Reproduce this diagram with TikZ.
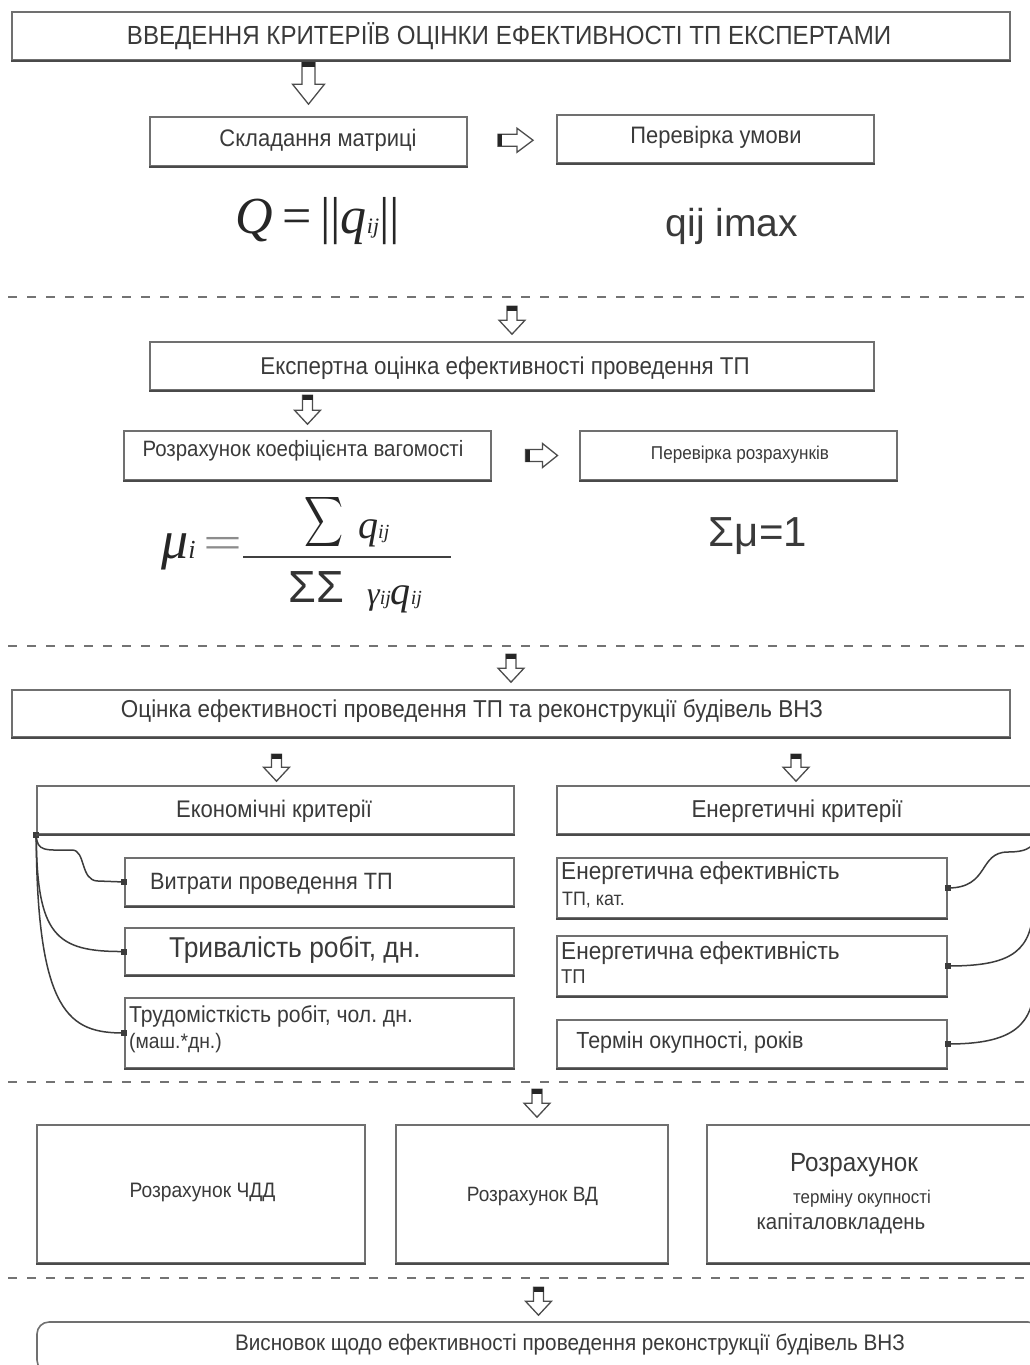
\documentclass[tikz,border=0pt]{standalone}
\usepackage{fontspec}
\setmainfont[FakeStretch=0.92]{Liberation Sans}
\newfontfamily\widesans{Liberation Sans}
\newfontfamily\tmsfont{Liberation Serif}
\usetikzlibrary{calc}
\definecolor{boxline}{HTML}{707070}
\definecolor{boxshade}{HTML}{4A4A4A}
\definecolor{ink}{HTML}{3A3A3A}
\definecolor{wire}{HTML}{3C3C3C}
\frenchspacing
\begin{document}
\begin{tikzpicture}[x=1pt,y=-1pt,
  box/.style={draw=boxline,line width=1.6pt,fill=white,inner sep=0pt},
  rbox/.style={box,rounded corners=12pt},
  shadeline/.style={draw=boxshade,line width=2.6pt},
  txt/.style={text=ink,inner sep=0pt,font=\fontsize{#1}{#1}\selectfont},
  wtxt/.style={text=ink,inner sep=0pt,font=\fontsize{#1}{#1}\selectfont\widesans},
  frm/.style={text=black!85,inner sep=0pt,font=\fontsize{#1}{#1}\selectfont\tmsfont\itshape},
  sepline/.style={draw=black!55,line width=2.4pt,dash pattern=on 9pt off 10pt},
  wireline/.style={draw=wire,line width=1.5pt},
  pin/.style={fill=wire},
  arrline/.style={draw=black!70,line width=1.3pt,fill=white},
  % hollow block arrow pointing down: length / head width / shaft width / head length
  pics/downarr/.style n args={4}{code={
    \path[arrline] (-#3/2,0) -- (-#3/2,#1-#4) -- (-#2/2,#1-#4) -- (0,#1)
      -- (#2/2,#1-#4) -- (#3/2,#1-#4) -- (#3/2,0) -- cycle;
    \fill[black!85] (-#3/2,0) rectangle (#3/2,5);
  }},
  % hollow block arrow pointing right
  pics/rightarr/.style n args={4}{code={
    \path[arrline] (0,-#3/2) -- (#1-#4,-#3/2) -- (#1-#4,-#2/2) -- (#1,0)
      -- (#1-#4,#2/2) -- (#1-#4,#3/2) -- (0,#3/2) -- cycle;
    \fill[black!85] (0,-#3/2) rectangle (4,#3/2);
  }}
]
\useasboundingbox (0,0) rectangle (1030,1365);
\fill[white] (0,0) rectangle (1030,1365);
\clip (0,0) rectangle (1030,1365);

% ---------- stage 1: criteria from experts ----------
\node[box,minimum width=998,minimum height=48] (title) at (511,36) {};
\node[txt=26.2] (tTitle) at (509,36) {ВВЕДЕННЯ КРИТЕРІЇВ ОЦІНКИ ЕФЕКТИВНОСТІ ТП ЕКСПЕРТАМИ};

\node[box,minimum width=317,minimum height=49] (mat) at (308.5,141.5) {};
\node[txt=23.9] (tMat) at (318,140) {Складання матриці};
\node[box,minimum width=317,minimum height=48] (cond) at (715.5,139) {};
\node[txt=23.8] (tCond) at (716,137) {Перевірка умови};

\node[frm=52] (fQ) at (318,221) {Q\,{\upshape =}\,{\upshape||}q{\fontsize{22}{22}\selectfont ij}{\upshape||}};
\node[wtxt=39] (fMax) at (732,226) {qij imax};

\pic at ($(mat.north)+(0,-54)$) {downarr={42}{32}{13}{20}};
\pic at ($(mat.east)!0.5!(cond.west)+(-14,0)$) {rightarr={35}{24}{12}{16}};

\draw[sepline] (8,297) -- (1030,297);

% ---------- stage 2: expert estimate ----------
\node[box,minimum width=724,minimum height=48] (exp) at (512,366) {};
\node[txt=24.3] (tExp) at (505,368) {Експертна оцінка ефективності проведення ТП};
\node[box,minimum width=367,minimum height=49] (coef) at (307.5,455.5) {};
\node[txt=22.2] (tCoef) at (303,451) {Розрахунок коефіцієнта вагомості};
\node[box,minimum width=317,minimum height=49] (chk) at (738.5,455.5) {};
\node[txt=18.6] (tChk) at (740,455) {Перевірка розрахунків};

\pic at ($(exp.north)+(0,-35)$) {downarr={28}{26}{10}{14}};
\pic at ($(coef.north)+(0,-35)$) {downarr={29}{26}{10}{14}};
\pic at ($(coef.east)!0.5!(chk.west)+(-10,0)$) {rightarr={32}{24}{12}{15}};

% weight coefficient formula
\node[frm=54,anchor=base west] (fMu) at (161,558) {μ{\fontsize{26}{26}\selectfont i}};
\node[inner sep=0pt,text=black!45,xscale=1.5,font=\fontsize{46}{46}\selectfont\tmsfont] (fEq) at (223,548) {=};
\coordinate (barL) at (243,557);
\coordinate (barR) at (451,557);
\draw[draw=black!75,line width=1.4pt] (barL) -- (barR);
\node[inner sep=0pt,text=black!85,xscale=2.7,yscale=3.5] (fSum) at (324,522) {$\displaystyle\sum$};
\node[frm=40,anchor=base west] (fNum) at (358,538) {q{\fontsize{20}{20}\selectfont ij}};
\node[wtxt=45,anchor=base west,text=black!80] (fSS) at (288,602) {ΣΣ};
\node[frm=40,anchor=base west] (fDen) at (367,604) {{\fontsize{32}{32}\selectfont γ}{\fontsize{20}{20}\selectfont ij}q{\fontsize{20}{20}\selectfont ij}};
\node[wtxt=42] (fOne) at (758,536) {Σμ=1};

\draw[sepline] (8,646) -- (1030,646);

% ---------- stage 3: efficiency criteria ----------
\node[box,minimum width=998,minimum height=47] (est) at (511,713.5) {};
\node[txt=24.4] (tEst) at (472,711) {Оцінка ефективності проведення ТП та реконструкції будівель ВНЗ};
\pic at ($(est.north)+(0,-35)$) {downarr={28}{26}{10}{14}};

\node[box,minimum width=477,minimum height=48] (eco) at (275.5,810) {};
\node[txt=24] (tEco) at (274,811) {Економічні критерії};
\node[box,minimum width=478,minimum height=48] (ene) at (796,810) {};
\node[txt=24.4] (tEne) at (797,811) {Енергетичні критерії};
\pic at ($(eco.north)+(1,-31)$) {downarr={27}{26}{10}{14}};
\pic at ($(ene.north)+(0,-31)$) {downarr={27}{26}{10}{14}};

\node[box,minimum width=389,minimum height=48] (e1) at (319.5,882) {};
\node[txt=23.6,anchor=west] (tE1) at (150,884) {Витрати проведення ТП};
\node[box,minimum width=389,minimum height=47] (e2) at (319.5,951.5) {};
\node[txt=28.7] (tE2) at (295,950) {Тривалість робіт, дн.};
\node[box,minimum width=389,minimum height=70] (e3) at (319.5,1033) {};
\node[txt=23,anchor=base west] (tE3a) at (129,1022) {Трудомісткість робіт, чол. дн.};
\node[txt=21,anchor=base west] (tE3b) at (129,1048) {(маш.*дн.)};

\node[box,minimum width=390,minimum height=60] (n1) at (752,888) {};
\node[txt=24.6,anchor=base west] (tN1a) at (561,879) {Енергетична ефективність};
\node[txt=19.4,anchor=base west] (tN1b) at (562,905) {ТП, кат.};
\node[box,minimum width=390,minimum height=60] (n2) at (752,966) {};
\node[txt=24.6,anchor=base west] (tN2a) at (561,959) {Енергетична ефективність};
\node[txt=20,anchor=base west] (tN2b) at (561,983) {ТП};
\node[box,minimum width=390,minimum height=48] (n3) at (752,1044) {};
\node[txt=23.3] (tN3) at (690,1042) {Термін окупності, років};

% links from the criteria groups to their items
\draw[wireline] (eco.south west) .. controls (37,852) and (45,850) .. (72,850)
  .. controls (86,850) and (80,881) .. (98,881) -- (e1.west);
\draw[wireline] (eco.south west) .. controls (37,935) and (55,952) .. (e2.west);
\draw[wireline] (eco.south west) .. controls (37,1015) and (70,1033) .. (e3.west);
\draw[wireline] (n1.east) .. controls (990,888) and (978,852) .. (1008,852)
  .. controls (1030,852) and (1035,845) .. (ene.south east);
\draw[wireline] (n2.east) .. controls (1005,966) and (1030,955) .. (1033,912) -- (ene.south east);
\draw[wireline] (n3.east) .. controls (1005,1044) and (1031,1030) .. (1034,990) -- (ene.south east);
\foreach \p in {eco.south west,e1.west,e2.west,e3.west,n1.east,n2.east,n3.east}
  \fill[pin] ($(\p)+(-3,-3)$) rectangle ($(\p)+(3,3)$);

\draw[sepline] (8,1082) -- (1030,1082);

% ---------- stage 4: calculations ----------
\node[box,minimum width=328,minimum height=138] (r1) at (201,1194) {};
\node[txt=20.9] (tR1) at (202.5,1192) {Розрахунок ЧДД};
\node[box,minimum width=272,minimum height=138] (r2) at (532,1194) {};
\node[txt=20.7] (tR2) at (532.5,1197) {Розрахунок ВД};
\node[box,minimum width=333,minimum height=138] (r3) at (873.5,1194) {};
\node[txt=26.3] (tR3a) at (854,1165) {Розрахунок};
\node[txt=18.4] (tR3b) at (862,1199) {терміну окупності};
\node[txt=22.2] (tR3c) at (841,1224) {капіталовкладень};
\pic at ($(r2.north)+(5,-35)$) {downarr={28}{26}{10}{14}};

\draw[sepline] (8,1278) -- (1030,1278);

% ---------- conclusion ----------
\node[rbox,minimum width=1003,minimum height=50] (fin) at (538.5,1347) {};
\node[txt=22.5] (tFin) at (570,1345) {Висновок щодо ефективності проведення реконструкції будівель ВНЗ};
\pic at ($(fin.north)+(0,-34)$) {downarr={28}{26}{10}{14}};

% darker lower edges of the boxes
\foreach \n in {title,mat,cond,exp,coef,chk,est,eco,ene,e1,e2,e3,n1,n2,n3,r1,r2,r3}
  \draw[shadeline] (\n.south west) -- (\n.south east);
\end{tikzpicture}
\end{document}
